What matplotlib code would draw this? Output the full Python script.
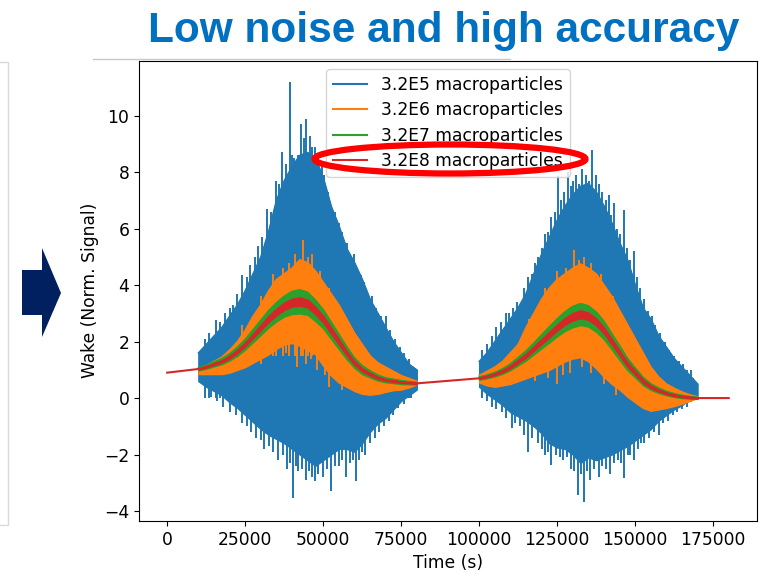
import numpy as np
import matplotlib.pyplot as plt
from matplotlib.patches import Ellipse, Polygon

# time grids of the two noisy bursts
t_burst1 = list(range(10000, 80001, 2500))
t_burst2 = list(range(100000, 170001, 2500))

# 3.2E5 macroparticles (blue), envelope
blue_top1 = [1.6, 1.9, 2.2, 2.5, 2.9, 3.3, 3.8, 4.4, 5.0, 5.9, 7.0, 7.7, 8.2, 8.6, 8.7,
             8.5, 7.8, 6.8, 6.1, 5.3, 4.8, 4.2, 3.5, 3.0, 2.5, 2.0, 1.6, 1.2, 1.0]
blue_bot1 = [0.6, 0.4, 0.25, 0.1, -0.15, -0.35, -0.6, -0.85, -1.1, -1.3, -1.45, -1.6, -1.8, -2.0, -2.2,
             -2.4, -2.2, -2.0, -1.8, -1.8, -1.9, -1.6, -1.2, -0.9, -0.7, -0.4, -0.1, 0.1, 0.3]
blue_top2 = [1.3, 1.6, 2.0, 2.4, 2.8, 3.2, 3.7, 4.4, 5.1, 5.7, 6.3, 6.8, 7.2, 7.5, 7.6,
             7.3, 6.8, 6.2, 5.5, 4.9, 4.0, 3.2, 2.8, 2.2, 1.8, 1.4, 1.1, 0.8, 0.5]
blue_bot2 = [0.4, 0.15, -0.05, -0.25, -0.5, -0.65, -0.8, -1.0, -1.25, -1.6, -1.75, -1.8, -2.0, -2.3, -2.1,
             -2.2, -2.1, -2.0, -1.85, -1.7, -1.5, -1.3, -1.1, -0.8, -0.6, -0.4, -0.25, -0.05, 0.05]

# single noise spikes of the blue trace (time, value)
blue_up_t = [12000, 13500, 15500, 17000, 18500, 20000, 21000, 22500, 24000, 25500, 26600, 28000,
             29000, 30500, 32100, 33300, 34800, 35800, 36900, 38000, 39300, 40000, 40700, 41900,
             43000, 43800, 44600, 45700, 46500, 47300, 48000, 48800, 49600, 50400, 51500, 52600,
             53800, 55200, 56000, 56800, 57800, 58900, 60000, 61000, 62100, 63200, 64200, 65500,
             67000, 68500, 70000, 71500, 73000, 74500, 76000, 77500,
             101000, 102500, 104000, 105500, 107000, 108500, 109500, 110900, 112000, 113600, 114500,
             115700, 117000, 118000, 119000, 120000, 121000, 122000, 123100, 124200, 125200, 126300,
             127300, 128400, 129400, 130200, 131000, 132000, 133000, 134200, 135300, 136300, 137300,
             138500, 139500, 140600, 141500, 142300, 143200, 144300, 145300, 146400, 147500, 148500,
             149500, 150500, 151700, 152800, 154000, 155400, 156500, 158000, 159500, 161000, 162500,
             164000, 165500, 167000, 168500]
blue_up_v = [2.1, 2.3, 2.75, 2.7, 3.0, 3.2, 3.3, 3.7, 4.35, 4.3, 4.7, 5.0,
             5.4, 5.7, 6.7, 6.6, 7.7, 7.6, 8.7, 8.3, 11.2, 8.6, 8.5, 8.6,
             9.7, 9.2, 9.9, 9.3, 8.9, 8.9, 8.6, 8.0, 8.2, 7.9, 7.3, 6.5,
             6.6, 6.2, 5.9, 5.3, 5.5, 5.0, 5.1, 4.5, 4.35, 4.1, 3.75, 3.6,
             3.2, 2.9, 2.9, 2.4, 2.1, 1.8, 1.6, 1.4,
             1.7, 1.9, 2.2, 2.5, 2.7, 3.0, 3.0, 3.2, 3.4, 3.4, 3.9,
             4.3, 4.4, 4.8, 5.0, 5.3, 5.8, 5.9, 6.4, 6.6, 7.85, 7.0,
             7.3, 8.0, 7.5, 7.7, 7.9, 7.6, 8.1, 7.9, 7.7, 8.8, 7.9,
             7.6, 7.3, 7.0, 7.2, 6.5, 6.9, 6.0, 5.8, 6.65, 5.3, 4.9,
             5.2, 4.3, 3.9, 3.5, 3.1, 2.9, 2.6, 2.3, 2.0, 1.7, 1.5,
             1.3, 1.2, 0.9, 0.7]
blue_dn_t = [12000, 14000, 16000, 18000, 20000, 22000, 24000, 25500, 27000, 28500, 30000, 31000,
             32500, 34000, 35500, 37000, 38500, 39500, 40400, 41200, 42000, 43200, 44500, 45500,
             46400, 47300, 48500, 50000, 51300, 52600, 53800, 55000, 56200, 57300, 58500, 59500,
             60500, 61500, 62500, 63500, 65000, 66500, 68000, 69500, 71000, 72500, 74000, 76000, 78000,
             101000, 102500, 104000, 105500, 107200, 108500, 110400, 111500, 113000, 114500, 115700,
             117000, 118900, 120000, 121000, 122000, 123100, 124500, 125800, 127000, 128200, 129500,
             130500, 131600, 132600, 133700, 134700, 135500, 136800, 138500, 139500, 140800, 142100,
             143300, 144500, 145500, 146400, 147600, 148500, 149500, 151000, 152000, 153000, 154500,
             156000, 157500, 159000, 160500, 162000, 163500, 165000, 166500, 168000]
blue_dn_v = [0.2, 0.05, -0.1, -0.3, -0.5, -0.6, -0.9, -1.0, -1.2, -1.4, -1.5, -1.8,
             -1.7, -1.9, -2.2, -2.0, -2.5, -2.3, -3.55, -2.4, -2.6, -2.5, -2.9, -2.6,
             -2.8, -2.95, -2.7, -2.8, -2.5, -3.3, -2.4, -2.4, -2.2, -2.8, -2.3, -2.2,
             -2.95, -2.2, -1.9, -2.0, -1.6, -1.4, -1.2, -1.0, -0.8, -0.6, -0.35, -0.2, 0.0,
             0.0, -0.1, -0.3, -0.4, -0.5, -0.7, -1.06, -0.9, -1.0, -1.3, -1.9,
             -1.4, -1.6, -1.8, -2.0, -1.9, -2.36, -2.0, -2.1, -2.2, -2.1, -2.5,
             -2.6, -3.43, -2.7, -3.67, -2.6, -2.9, -2.5, -2.8, -2.4, -2.5, -2.7,
             -2.3, -2.2, -2.3, -2.83, -2.0, -2.0, -2.2, -1.8, -1.6, -1.6, -1.4,
             -1.2, -1.3, -0.9, -0.8, -0.6, -0.5, -0.4, -0.3, -0.15]

# 3.2E6 macroparticles (orange)
orange_top1 = [1.05, 1.15, 1.3, 1.45, 1.7, 2.0, 2.4, 2.9, 3.3, 3.8, 4.2, 4.4, 4.6, 4.9, 4.8,
               4.5, 4.1, 3.7, 3.3, 2.8, 2.3, 1.9, 1.5, 1.25, 1.1, 0.95, 0.8, 0.7, 0.6]
orange_bot1 = [0.85, 0.85, 0.85, 0.85, 0.9, 1.0, 1.1, 1.25, 1.4, 1.55, 1.75, 1.9, 1.95, 1.85, 1.7,
               1.55, 1.15, 0.8, 0.55, 0.4, 0.25, 0.15, 0.12, 0.15, 0.22, 0.28, 0.3, 0.38, 0.48]
orange_top2 = [0.8, 0.95, 1.1, 1.3, 1.6, 1.9, 2.5, 3.0, 3.5, 3.9, 4.2, 4.4, 4.6, 4.75, 4.6,
               4.4, 4.0, 3.6, 3.1, 2.6, 2.1, 1.6, 1.1, 0.75, 0.5, 0.35, 0.22, 0.12, 0.05]
orange_bot2 = [0.55, 0.45, 0.4, 0.45, 0.5, 0.6, 0.7, 0.8, 0.9, 1.0, 1.15, 1.3, 1.4, 1.45, 1.3,
               1.05, 0.75, 0.5, 0.3, 0.05, -0.15, -0.35, -0.45, -0.4, -0.35, -0.28, -0.2, -0.1, 0.0]
orange_up_t = [24000, 30000, 34000, 37000, 39000, 41000, 43600, 45000, 46500, 49000, 52000,
               116000, 121000, 125000, 128000, 130500, 132000, 133500, 136000, 139000, 143000]
orange_up_v = [2.6, 3.6, 4.4, 4.6, 4.8, 5.1, 5.6, 5.0, 5.1, 4.5, 3.9,
               2.8, 3.9, 4.5, 4.6, 5.25, 4.9, 5.0, 4.8, 4.4, 3.6]
orange_dn_t = [30000, 35000, 38000, 41500, 43000, 44500, 46000, 48000, 50500, 52000, 56000,
               118000, 122000, 125000, 127000, 129000, 133000, 136000, 140000, 144000]
orange_dn_v = [1.2, 1.5, 1.6, 1.1, 1.5, 1.2, 1.4, 1.0, 0.8, 0.4, 0.3,
               0.6, 0.7, 0.5, 0.8, 0.9, 1.1, 0.9, 0.5, 0.1]

# 3.2E8 macroparticles (red): centre line, plus band widths of green / red
red_mid1 = [1.03, 1.1, 1.2, 1.3, 1.45, 1.65, 1.9, 2.2, 2.5, 2.8, 3.05, 3.25, 3.38, 3.42, 3.35,
            3.1, 2.8, 2.4, 2.0, 1.6, 1.25, 1.0, 0.85, 0.72, 0.64, 0.6, 0.56, 0.54, 0.52]
red_mid2 = [0.7, 0.76, 0.84, 0.95, 1.1, 1.3, 1.5, 1.75, 2.0, 2.25, 2.5, 2.72, 2.88, 2.97, 2.9,
            2.7, 2.4, 2.0, 1.6, 1.2, 0.9, 0.6, 0.4, 0.27, 0.17, 0.1, 0.05, 0.02, 0.0]
green_half1 = [0.05, 0.06, 0.08, 0.1, 0.12, 0.15, 0.18, 0.22, 0.26, 0.3, 0.33, 0.36, 0.4, 0.42, 0.4,
               0.37, 0.33, 0.3, 0.26, 0.22, 0.18, 0.15, 0.12, 0.1, 0.08, 0.07, 0.06, 0.05, 0.04]
green_half2 = [0.05, 0.06, 0.07, 0.09, 0.11, 0.14, 0.17, 0.2, 0.24, 0.28, 0.31, 0.34, 0.37, 0.38, 0.37,
               0.35, 0.32, 0.28, 0.25, 0.21, 0.17, 0.14, 0.11, 0.09, 0.07, 0.06, 0.05, 0.04, 0.03]
red_half1 = [0.02, 0.02, 0.03, 0.04, 0.05, 0.06, 0.07, 0.08, 0.1, 0.11, 0.12, 0.13, 0.14, 0.15, 0.14,
             0.13, 0.12, 0.11, 0.1, 0.08, 0.07, 0.06, 0.05, 0.04, 0.03, 0.03, 0.02, 0.02, 0.02]
red_half2 = [0.02, 0.02, 0.03, 0.04, 0.05, 0.06, 0.07, 0.08, 0.09, 0.1, 0.11, 0.12, 0.13, 0.14, 0.13,
             0.12, 0.11, 0.1, 0.09, 0.08, 0.07, 0.06, 0.05, 0.04, 0.03, 0.03, 0.02, 0.02, 0.02]
red_t_ends = [0, 180000]
red_v_ends = [0.9, 0.0]

labels = ['3.2E5 macroparticles', '3.2E6 macroparticles',
          '3.2E7 macroparticles', '3.2E8 macroparticles']
colors = ['#1f77b4', '#ff7f0e', '#2ca02c', '#d62728']
fs = 12.3

plt.rcParams['font.family'] = ['DejaVu Sans']
fig = plt.figure(figsize=(7.77, 5.73), dpi=100)
ax = fig.add_axes([0.179, 0.091, 0.795, 0.803])

bursts = [(t_burst1, blue_top1, blue_bot1, orange_top1, orange_bot1, red_mid1, green_half1, red_half1),
          (t_burst2, blue_top2, blue_bot2, orange_top2, orange_bot2, red_mid2, green_half2, red_half2)]

for i, (t, bt, bb, ot, ob, rm, gh, rh) in enumerate(bursts):
    t = np.array(t)
    rm, gh, rh = np.array(rm), np.array(gh), np.array(rh)
    ax.fill_between(t, bb, bt, color=colors[0], lw=1, zorder=1)
    ax.fill_between(t, ob, ot, color=colors[1], lw=1, zorder=2)
    ax.fill_between(t, rm - gh, rm + gh, color=colors[2], lw=1, zorder=3)
    ax.fill_between(t, rm - rh, rm + rh, color=colors[3], lw=1, zorder=4)
    # envelope lines, the first burst also gives the legend entries
    ax.plot(t, bt, color=colors[0], lw=1, zorder=1, label=labels[0] if i == 0 else None)
    ax.plot(t, ot, color=colors[1], lw=1, zorder=2, label=labels[1] if i == 0 else None)
    ax.plot(t, rm + gh, color=colors[2], lw=1, zorder=3, label=labels[2] if i == 0 else None)

ax.vlines(blue_up_t, 0, blue_up_v, color=colors[0], lw=1.4, zorder=1)
ax.vlines(blue_dn_t, blue_dn_v, 1, color=colors[0], lw=1.4, zorder=1)
ax.vlines(orange_up_t, 1.5, orange_up_v, color=colors[1], lw=1.4, zorder=2)
ax.vlines(orange_dn_t, orange_dn_v, 2.0, color=colors[1], lw=1.4, zorder=2)

red_t = [red_t_ends[0]] + t_burst1 + t_burst2 + [red_t_ends[1]]
red_v = [red_v_ends[0]] + red_mid1 + red_mid2 + [red_v_ends[1]]
ax.plot(red_t, red_v, color=colors[3], lw=1.5, zorder=5, label=labels[3])

leg = ax.legend(loc='upper center', fontsize=fs, labelspacing=0.43)
for line in leg.get_lines():
    line.set_linewidth(1.5)

ax.set_xlim(-9000, 189000)
ax.set_ylim(-4.35, 11.95)
ax.set_xticks(range(0, 175001, 25000))
ax.set_yticks(range(-4, 11, 2))
ax.tick_params(labelsize=fs)
ax.set_xlabel('Time (s)', fontsize=fs)
ax.set_ylabel('Wake (Norm. Signal)', fontsize=fs)

W, H = 777, 573
def fx(x):
    return x / W
def fy(y):
    return 1 - y / H

# slide decorations
fig.text(fx(444), fy(42), 'Low noise and high accuracy', ha='center', va='baseline',
         fontsize=30.5, fontweight='bold', color='#0070C0', family='Liberation Sans')
fig.add_artist(plt.Line2D([fx(93), fx(510)], [fy(59), fy(59)], color='#c8c8c8', lw=1))
fig.add_artist(plt.Line2D([0, fx(8), fx(8), 0], [fy(62), fy(62), fy(525), fy(525)],
                          color='#d9d9d9', lw=1))
arrow = [(22, 270), (42, 270), (42, 248), (61, 293), (42, 337), (42, 315), (22, 315)]
fig.add_artist(Polygon([(fx(x), fy(y)) for x, y in arrow], closed=True,
                       facecolor='#002060', edgecolor='none'))
fig.add_artist(Ellipse((fx(450), fy(159)), 271 / W, 29 / H, fill=False,
                       edgecolor='#ff0000', lw=4.5, zorder=10))

fig.savefig('out.png', dpi=100)
